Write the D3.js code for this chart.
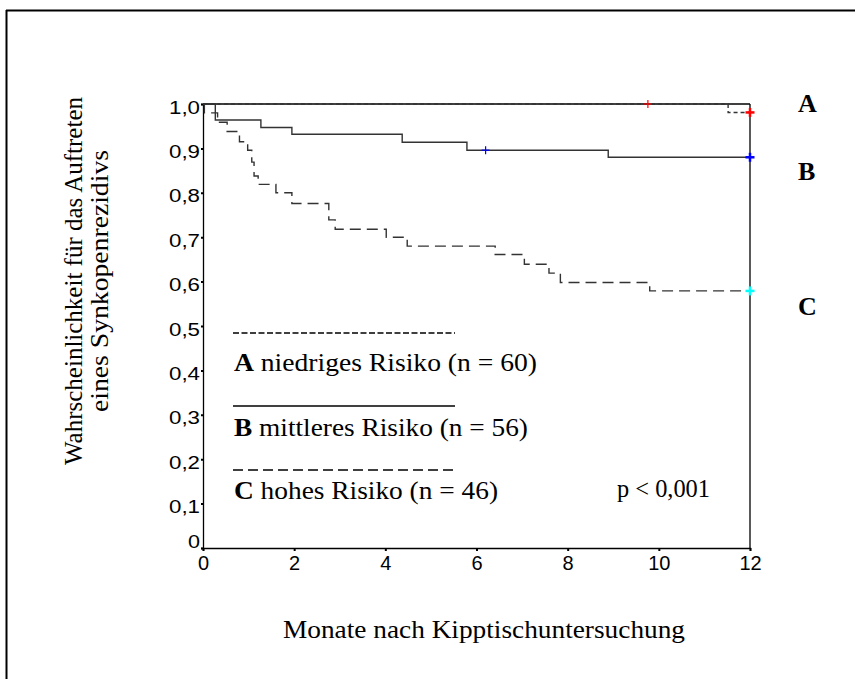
<!DOCTYPE html>
<html>
<head>
<meta charset="utf-8">
<script src="https://cdn.jsdelivr.net/npm/d3@7"></script>
<style>
  html, body { margin: 0; padding: 0; background: #fff; }
  svg { display: block; }
</style>
</head>
<body>
<svg id="chart" width="855" height="679"></svg>
<script>
// ---- data ----
const xTicks = [0, 2, 4, 6, 8, 10, 12];
const yTicks = [0, 0.1, 0.2, 0.3, 0.4, 0.5, 0.6, 0.7, 0.8, 0.9, 1.0];

const timesA = [0, 11.52, 12];
const survA  = [1.0, 0.981, 0.981];

const timesB = [0, 0.27, 1.27, 1.95, 4.37, 5.79, 8.89, 12];
const survB  = [1.0, 0.964, 0.947, 0.932, 0.914, 0.896, 0.88, 0.88];

const timesC = [0, 0.03, 0.32, 0.53, 0.8, 0.98, 1.07, 1.12, 1.21, 1.6, 1.95, 2.76, 2.9, 4.02, 4.48, 6.41, 7.05, 7.59, 7.84, 9.8, 12];
const survC  = [1.0, 0.98, 0.959, 0.938, 0.915, 0.896, 0.869, 0.838, 0.819, 0.80, 0.776, 0.739, 0.718, 0.70, 0.68, 0.661, 0.639, 0.619, 0.598, 0.579, 0.579];

const censTimesA = [9.76, 12];
const censSurvA  = [1.0, 0.981];
const censTimesB = [6.2, 12];
const censSurvB  = [0.896, 0.88];
const censTimesC = [12];
const censSurvC  = [0.579];

const groupLetters = ["A", "B", "C"];
const groupLabels = ["niedriges Risiko (n = 60)", "mittleres Risiko (n = 56)", "hohes Risiko (n = 46)"];

// ---- drawing ----
const svg = d3.select("#chart");
const serif = "'Liberation Serif', 'Times New Roman', serif";
const sans = "'Liberation Sans', Arial, sans-serif";

const x = d3.scaleLinear().domain([0, 12]).range([203, 750]);
const y = d3.scaleLinear().domain([0, 1]).range([548, 104]);

// outer frame (top + left)
svg.append("line").attr("x1", 6).attr("x2", 855).attr("y1", 10.5).attr("y2", 10.5)
  .attr("stroke", "#000").attr("stroke-width", 2);
svg.append("line").attr("x1", 6.5).attr("x2", 6.5).attr("y1", 10).attr("y2", 679)
  .attr("stroke", "#000").attr("stroke-width", 2);

// plot frame top & right
svg.append("line").attr("x1", x(0)).attr("x2", x(12)).attr("y1", y(1)).attr("y2", y(1))
  .attr("stroke", "#000").attr("stroke-width", 1.3);
svg.append("line").attr("x1", x(12)).attr("x2", x(12)).attr("y1", y(1)).attr("y2", y(0))
  .attr("stroke", "#000").attr("stroke-width", 1.3);

// axes
const yAxis = d3.axisLeft(y).tickValues(yTicks).tickSize(2).tickPadding(1)
  .tickFormat(d => d === 0 ? "0" : d3.format(".1f")(d).replace(".", ","));
const gy = svg.append("g").attr("transform", `translate(${x(0)},0)`).call(yAxis);
gy.select(".domain").attr("stroke", "#000").attr("stroke-width", 1.3);
gy.selectAll(".tick line").attr("stroke", "#000").attr("stroke-width", 2);
gy.selectAll(".tick text").attr("font-family", sans).attr("font-size", 18)
  .attr("fill", "#000").attr("dy", d => d === 0 ? "-0.05em" : "0.5em")
  .attr("textLength", d => d === 0 ? 12 : 31).attr("lengthAdjust", "spacingAndGlyphs");

const xAxis = d3.axisBottom(x).tickValues(xTicks).tickSize(3).tickPadding(5)
  .tickFormat(d3.format("d"));
const gx = svg.append("g").attr("transform", `translate(0,${y(0)})`).call(xAxis);
gx.select(".domain").attr("stroke", "#000").attr("stroke-width", 1.3);
gx.selectAll(".tick line").attr("stroke", "#000").attr("stroke-width", 2);
gx.selectAll(".tick text").attr("font-family", sans).attr("font-size", 20).attr("fill", "#000");

// curves
const line = d3.line().x(d => x(d[0])).y(d => y(d[1])).curve(d3.curveStepAfter);
const curves = [
  { t: timesA, s: survA, dash: "4,3" },
  { t: timesB, s: survB, dash: null },
  { t: timesC, s: survC, dash: "11,6" }
];
curves.forEach(c => {
  svg.append("path").datum(d3.zip(c.t, c.s)).attr("d", line)
    .attr("fill", "none").attr("stroke", "#333").attr("stroke-width", 1.4)
    .attr("stroke-dasharray", c.dash);
});

// censor marks
const cens = [
  { t: censTimesA, s: censSurvA, color: "#ff0000" },
  { t: censTimesB, s: censSurvB, color: "#0000ff" },
  { t: censTimesC, s: censSurvC, color: "#00ffff" }
];
cens.forEach(c => {
  d3.zip(c.t, c.s).forEach(([t, s]) => {
    const end = t === 12;
    const r = end ? 4.5 : 4;
    const g = svg.append("g").attr("stroke", c.color).attr("stroke-width", end ? 2.5 : 1.2);
    g.append("line").attr("x1", x(t) - r).attr("x2", x(t) + r).attr("y1", y(s)).attr("y2", y(s));
    g.append("line").attr("x1", x(t)).attr("x2", x(t)).attr("y1", y(s) - r).attr("y2", y(s) + r);
  });
});

// right-side group letters
const letterY = [112, 180, 315];
groupLetters.forEach((L, i) => {
  svg.append("text").attr("x", 798).attr("y", letterY[i]).text(L)
    .attr("font-family", serif).attr("font-weight", "bold").attr("font-size", 26);
});

// legend
const legLineY = [333, 406, 470];
const legDash = ["6,2.5", null, "10,5"];
const legTextY = [371, 436, 499];
const legTextLen = [303, 294, 264];
groupLetters.forEach((L, i) => {
  svg.append("line").attr("x1", 233).attr("x2", 455).attr("y1", legLineY[i]).attr("y2", legLineY[i])
    .attr("stroke", "#000").attr("stroke-width", 1.3).attr("stroke-dasharray", legDash[i]);
  const t = svg.append("text").attr("x", 234).attr("y", legTextY[i])
    .attr("font-family", serif).attr("font-size", 26)
    .attr("textLength", legTextLen[i]).attr("lengthAdjust", "spacingAndGlyphs");
  t.append("tspan").attr("font-weight", "bold").text(L);
  t.append("tspan").text(" " + groupLabels[i]);
});

svg.append("text").attr("x", 617).attr("y", 497).text("p < 0,001")
  .attr("font-family", serif).attr("font-size", 26)
  .attr("textLength", 93).attr("lengthAdjust", "spacingAndGlyphs");

// axis titles
svg.append("text").attr("x", 484).attr("y", 638).attr("text-anchor", "middle")
  .text("Monate nach Kipptischuntersuchung")
  .attr("font-family", serif).attr("font-size", 26)
  .attr("textLength", 402).attr("lengthAdjust", "spacingAndGlyphs");

const yTitle = ["Wahrscheinlichkeit für das Auftreten", "eines Synkopenrezidivs"];
const yTitleX = [82, 108];
const yTitleLen = [368, 262];
yTitle.forEach((s, i) => {
  svg.append("text").attr("transform", `translate(${yTitleX[i]},281) rotate(-90)`)
    .attr("text-anchor", "middle").text(s)
    .attr("font-family", serif).attr("font-size", 26)
    .attr("textLength", yTitleLen[i]).attr("lengthAdjust", "spacingAndGlyphs");
});
</script>
</body>
</html>
